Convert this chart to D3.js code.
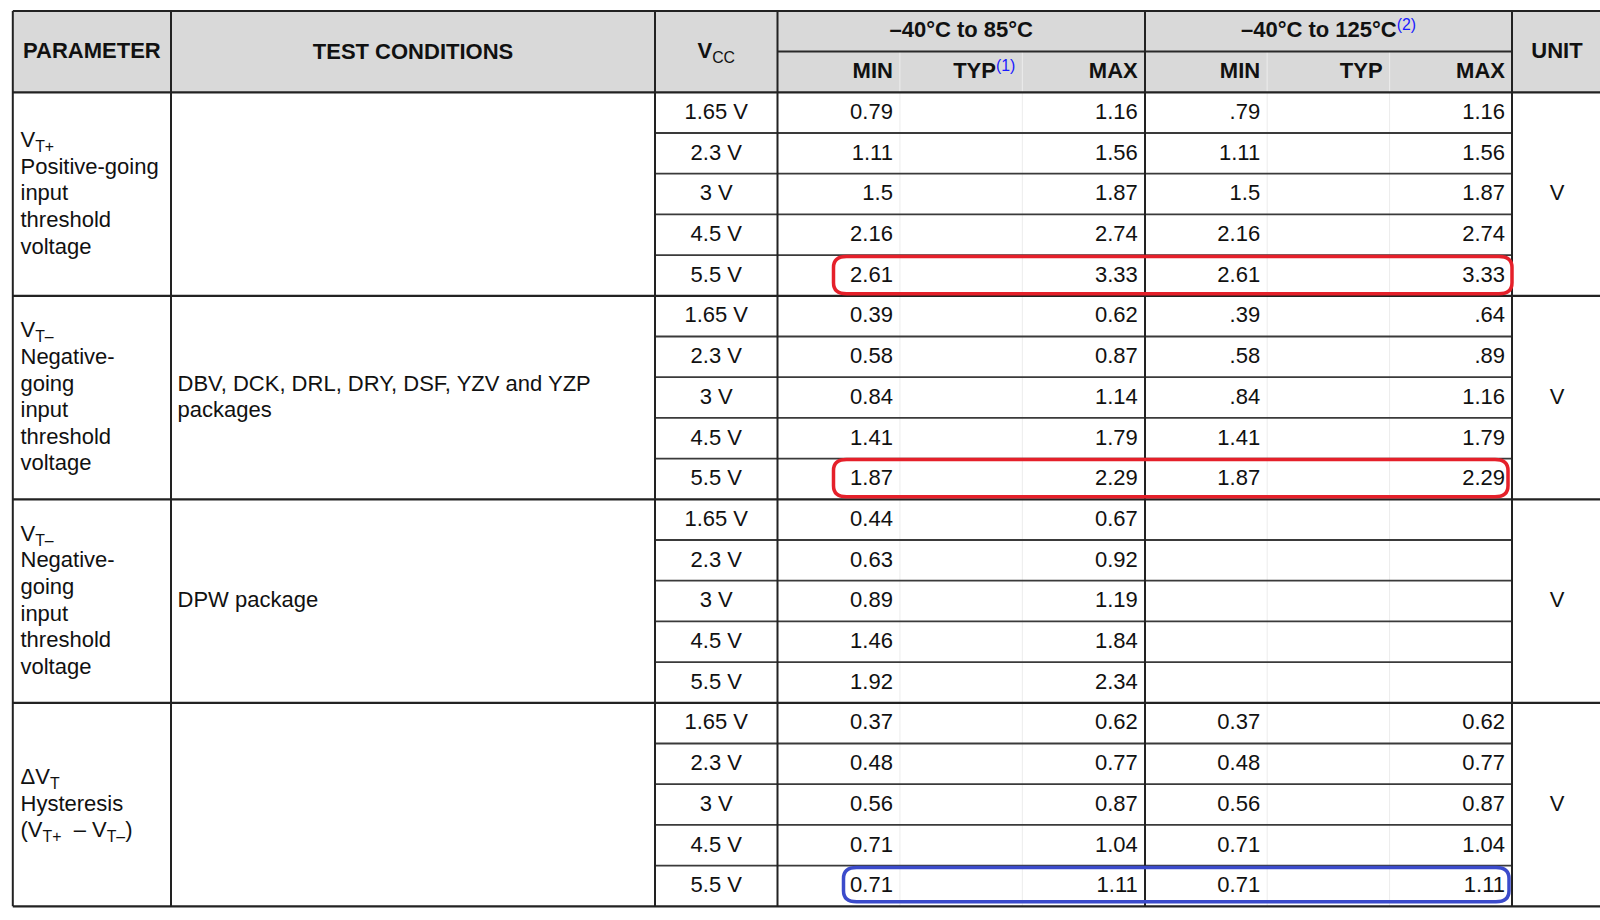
<!DOCTYPE html>
<html>
<head>
<meta charset="utf-8">
<script src="https://cdn.jsdelivr.net/npm/d3@7"></script>
<style>
body{margin:0;background:#fff;}
svg{display:block;}
text{font-family:"Liberation Sans",Arial,Helvetica,sans-serif;fill:#111;}
</style>
</head>
<body>
<div id="chart"></div>
<script>

////////////////////////////////////////
// data
////////////////////////////////////////

var vccLevels = ['1.65 V','2.3 V','3 V','4.5 V','5.5 V'];

var subCols = ['min85','typ85','max85','min125','typ125','max125'];
var subLabels = ['MIN','TYP^{(1)}','MAX','MIN','TYP','MAX'];
var tempLabels = ['–40°C to 85°C','–40°C to 125°C^{(2)}'];

var paramVtPlus = ['V_{T+}','Positive-going','input','threshold','voltage'];
var paramVtMinus = ['V_{T–}','Negative-','going','input','threshold','voltage'];
var paramHyst = ['ΔV_{T}','Hysteresis','(V_{T+}  – V_{T–})'];

var condDefault = ['DBV, DCK, DRL, DRY, DSF, YZV and YZP','packages'];
var condDpw = ['DPW package'];

var vtPlusMin85 = ['0.79','1.11','1.5','2.16','2.61'];
var vtPlusMax85 = ['1.16','1.56','1.87','2.74','3.33'];
var vtPlusMin125 = ['.79','1.11','1.5','2.16','2.61'];
var vtPlusMax125 = ['1.16','1.56','1.87','2.74','3.33'];

var vtMinusMin85 = ['0.39','0.58','0.84','1.41','1.87'];
var vtMinusMax85 = ['0.62','0.87','1.14','1.79','2.29'];
var vtMinusMin125 = ['.39','.58','.84','1.41','1.87'];
var vtMinusMax125 = ['.64','.89','1.16','1.79','2.29'];

var dpwMin85 = ['0.44','0.63','0.89','1.46','1.92'];
var dpwMax85 = ['0.67','0.92','1.19','1.84','2.34'];
var dpwMin125 = ['','','','',''];
var dpwMax125 = ['','','','',''];

var hystMin85 = ['0.37','0.48','0.56','0.71','0.71'];
var hystMax85 = ['0.62','0.77','0.87','1.04','1.11'];
var hystMin125 = ['0.37','0.48','0.56','0.71','0.71'];
var hystMax125 = ['0.62','0.77','0.87','1.04','1.11'];

var unitLabel = 'V';

// rows circled by hand in the picture
var marked = [
	{row:4, color:'#e5202a', x0:56, x1:0, t:1.5, b:2},
	{row:9, color:'#e5202a', x0:56, x1:4, t:0.8, b:2.5},
	{row:19, color:'#3b4bcb', x0:66, x1:3, t:2, b:4.5}
];

var groups = [
	{param:paramVtPlus, cond:[], min85:vtPlusMin85, max85:vtPlusMax85, min125:vtPlusMin125, max125:vtPlusMax125},
	{param:paramVtMinus, cond:condDefault, min85:vtMinusMin85, max85:vtMinusMax85, min125:vtMinusMin125, max125:vtMinusMax125},
	{param:paramVtMinus, cond:condDpw, min85:dpwMin85, max85:dpwMax85, min125:dpwMin125, max125:dpwMax125},
	{param:paramHyst, cond:[], min85:hystMin85, max85:hystMax85, min125:hystMin125, max125:hystMax125}
];

////////////////////////////////////////
// layout
////////////////////////////////////////

var W = 1600, H = 920;
var tableLeft = 12.8, tableRight = 1602;
var tableTop = 11, headerMid = 51.5, headerBottom = 92.3, tableBottom = 906.3;
var colParam = 171, colVcc = 655, colTemp = 777.5, colTemp2 = 1145, colUnit = 1512;
var lineGap = 26.6;
var pad = 7;
var textDrop = 6.3;

var rowY = d3.scaleLinear().domain([0,20]).range([headerBottom,tableBottom]);
var subX = d3.scaleBand().domain(subCols).range([colTemp,colUnit]);
var bw = subX.bandwidth();

var svg = d3.select('#chart').append('svg')
	.attr('width',W)
	.attr('height',H);

svg.append('rect')
	.attr('x',0).attr('y',0)
	.attr('width',W).attr('height',H)
	.attr('fill','#fff');

// header background
svg.append('rect')
	.attr('x',tableLeft)
	.attr('y',tableTop)
	.attr('width',tableRight-tableLeft)
	.attr('height',headerBottom-tableTop)
	.attr('fill','#d9d9d9');

////////////////////////////////////////
// rich text: V_{T+} subscripts, X^{(1)} superscripts
////////////////////////////////////////

function rich(t, str, size){
	var parts = str.split(/(_\{[^}]*\}|\^\{[^}]*\})/).filter(function(s){ return s.length; });
	var shift = 0;
	parts.forEach(function(p){
		var ts = t.append('tspan');
		var d = 0;
		if(p.indexOf('_{')===0){
			d = 5;
			ts.attr('font-size',size*0.72).attr('font-weight','normal').text(p.slice(2,-1));
		}
		else if(p.indexOf('^{')===0){
			d = -7;
			ts.attr('font-size',size*0.72).attr('font-weight','normal').style('fill','#1a1aff').text(p.slice(2,-1));
		}
		else {
			ts.text(p);
		}
		ts.attr('dy',d-shift);
		shift = d;
	});
	return t;
}

function label(x, y, str, opts){
	opts = opts || {};
	var size = opts.size || 22;
	var t = svg.append('text')
		.attr('x',x)
		.attr('y',y)
		.attr('font-size',size)
		.attr('font-weight',opts.bold ? 'bold' : 'normal')
		.attr('text-anchor',opts.anchor || 'start')
		.style('white-space','pre');
	return rich(t,str,size);
}

////////////////////////////////////////
// grid lines
////////////////////////////////////////

function hline(y, x0, x1, color, w){
	svg.append('line')
		.attr('x1',x0).attr('x2',x1)
		.attr('y1',y).attr('y2',y)
		.attr('stroke',color).attr('stroke-width',w);
}
function vline(x, y0, y1, color, w){
	svg.append('line')
		.attr('x1',x).attr('x2',x)
		.attr('y1',y0).attr('y2',y1)
		.attr('stroke',color).attr('stroke-width',w);
}

// faint lines between MIN / TYP / MAX
['typ85','max85','typ125','max125'].forEach(function(k){
	vline(subX(k),headerMid,tableBottom,'#ececec',1);
});

d3.range(1,20).forEach(function(i){
	if(i%5) hline(rowY(i),colVcc,colUnit,'#3a3a3a',1.8);
});

hline(headerMid,colTemp,colUnit,'#2a2a2a',2);
[tableTop,headerBottom,rowY(5),rowY(10),rowY(15),rowY(20)].forEach(function(y){
	hline(y,tableLeft,tableRight,'#222',2.2);
});
[tableLeft,colParam,colVcc,colTemp,colTemp2,colUnit].forEach(function(x){
	vline(x,tableTop,tableBottom,'#222',2);
});

////////////////////////////////////////
// header
////////////////////////////////////////

label(23,58,'PARAMETER',{bold:true});
label((colParam+colVcc)/2,58.5,'TEST CONDITIONS',{bold:true,anchor:'middle'});
label((colVcc+colTemp)/2,57.5,'V_{CC}',{bold:true,anchor:'middle'});
label((colTemp+colTemp2)/2,36.5,tempLabels[0],{bold:true,anchor:'middle'});
label((colTemp2+colUnit)/2,36.5,tempLabels[1],{bold:true,anchor:'middle'});
label((colUnit+tableRight)/2,58,'UNIT',{bold:true,anchor:'middle'});

subCols.forEach(function(k,i){
	label(subX(k)+bw-pad,77.8,subLabels[i],{bold:true,anchor:'end'});
});

////////////////////////////////////////
// body
////////////////////////////////////////

groups.forEach(function(g,gi){
	var gTop = rowY(gi*5), gBot = rowY(gi*5+5);
	var gMid = (gTop+gBot)/2;

	g.param.forEach(function(s,li){
		var y = gMid-(g.param.length-1)/2*lineGap+li*lineGap+textDrop;
		label(20.5,y,s);
	});
	g.cond.forEach(function(s,li){
		var y = gMid-(g.cond.length-1)/2*lineGap+li*lineGap+textDrop;
		label(177.5,y,s);
	});
	label((colUnit+tableRight)/2,gMid+textDrop,unitLabel,{anchor:'middle'});

	vccLevels.forEach(function(v,ri){
		var idx = gi*5+ri;
		var cy = (rowY(idx)+rowY(idx+1))/2+textDrop;
		label((colVcc+colTemp)/2,cy,v,{anchor:'middle'});
		['min85','max85','min125','max125'].forEach(function(k){
			if(g[k][ri]) label(subX(k)+bw-pad,cy,g[k][ri],{anchor:'end'});
		});
	});
});

////////////////////////////////////////
// hand drawn marks
////////////////////////////////////////

marked.forEach(function(m){
	var x0 = subX('min85')+m.x0, x1 = subX('max125')+bw-m.x1;
	var y0 = rowY(m.row)+m.t, y1 = rowY(m.row+1)-m.b;
	var rx = 13, ry = 11;
	var p = d3.path();
	p.moveTo(x0+rx,y0);
	p.lineTo(x1-rx,y0);
	p.quadraticCurveTo(x1,y0,x1,y0+ry);
	p.lineTo(x1,y1-ry);
	p.quadraticCurveTo(x1,y1,x1-rx,y1);
	p.lineTo(x0+rx,y1);
	p.quadraticCurveTo(x0,y1,x0,y1-ry);
	p.lineTo(x0,y0+ry);
	p.quadraticCurveTo(x0,y0,x0+rx,y0);
	p.closePath();
	svg.append('path')
		.attr('d',p.toString())
		.attr('fill','none')
		.attr('stroke',m.color)
		.attr('stroke-width',3.5)
		.attr('stroke-linejoin','round');
});

</script>
</body>
</html>
